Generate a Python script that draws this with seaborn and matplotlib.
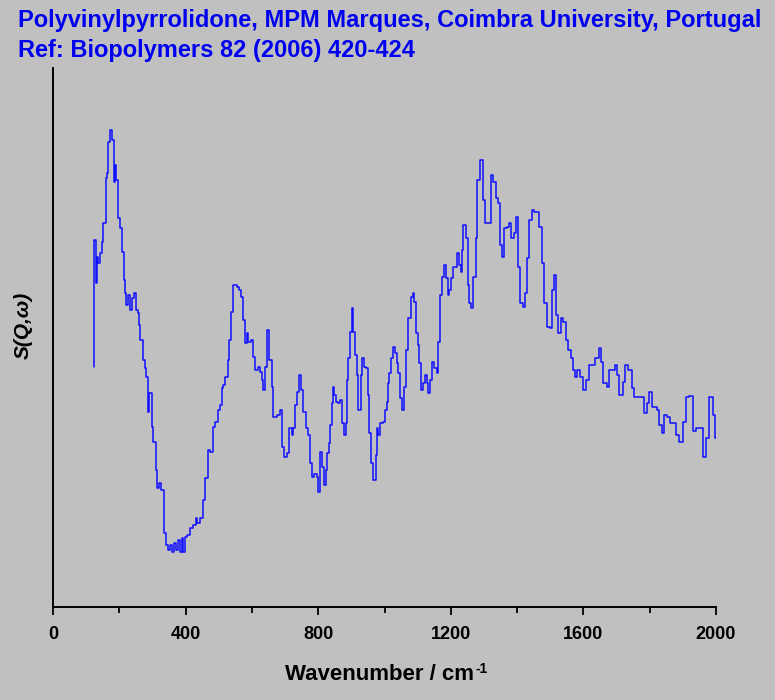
import matplotlib
matplotlib.use("Agg")
import matplotlib.pyplot as plt
from matplotlib.ticker import MultipleLocator
import seaborn as sns
import pandas as pd

# S(Q,w) of PVP (arbitrary intensity units)
wavenumber = [124, 125, 130, 133, 137, 142, 148, 151, 160, 163, 166, 172, 178, 184, 187, 190,
              196, 202, 208, 214, 217, 220, 226, 232, 238, 244, 250, 256, 259, 262, 271, 278,
              281, 287, 290, 299, 302, 311, 314, 320, 326, 335, 341, 347, 353, 359, 365, 371,
              377, 383, 389, 392, 398, 404, 413, 422, 431, 434, 443, 452, 459, 468, 474, 483,
              489, 498, 504, 510, 513, 519, 528, 531, 537, 543, 555, 561, 567, 573, 579, 585,
              588, 597, 603, 609, 618, 624, 630, 633, 640, 646, 652, 661, 664, 676, 685, 691,
              697, 706, 712, 721, 724, 730, 736, 742, 748, 754, 763, 769, 775, 781, 787, 796,
              799, 805, 811, 818, 824, 827, 833, 836, 842, 845, 848, 854, 860, 866, 872, 878,
              884, 887, 890, 896, 902, 905, 911, 917, 920, 929, 932, 938, 944, 950, 953, 959,
              965, 974, 977, 980, 986, 995, 1002, 1008, 1011, 1014, 1020, 1026, 1032, 1038, 1041, 1047,
              1053, 1059, 1065, 1071, 1080, 1086, 1089, 1095, 1101, 1104, 1110, 1116, 1122, 1128, 1131, 1137,
              1143, 1149, 1158, 1161, 1167, 1173, 1180, 1186, 1192, 1195, 1201, 1207, 1219, 1225, 1231, 1234,
              1237, 1246, 1252, 1255, 1261, 1267, 1276, 1279, 1288, 1297, 1303, 1321, 1327, 1336, 1342, 1348,
              1354, 1360, 1370, 1376, 1382, 1391, 1397, 1403, 1409, 1418, 1424, 1430, 1436, 1445, 1451, 1466,
              1475, 1481, 1490, 1499, 1505, 1511, 1517, 1523, 1532, 1538, 1548, 1554, 1563, 1569, 1575, 1581,
              1590, 1599, 1608, 1617, 1635, 1647, 1653, 1659, 1671, 1677, 1695, 1701, 1707, 1719, 1726, 1735,
              1747, 1753, 1783, 1792, 1798, 1807, 1822, 1828, 1837, 1843, 1852, 1861, 1879, 1888, 1900, 1910,
              1919, 1931, 1940, 1961, 1970, 1979, 1991, 1997, 2000]
intensity = [240, 367, 324, 350, 344, 354, 365, 384, 429, 434, 465, 477, 467, 425, 442, 427,
             389, 379, 355, 327, 314, 302, 312, 297, 309, 314, 297, 294, 282, 267, 247, 239,
             230, 195, 214, 180, 165, 137, 119, 124, 117, 74, 62, 57, 62, 55, 64, 57,
             67, 55, 69, 55, 70, 72, 79, 82, 89, 84, 89, 107, 129, 157, 155, 180,
             185, 197, 202, 219, 222, 230, 247, 267, 295, 322, 320, 317, 310, 287, 264, 274,
             265, 267, 250, 237, 240, 235, 227, 217, 240, 277, 247, 220, 190, 192, 197, 160,
             150, 154, 179, 172, 179, 202, 215, 232, 217, 195, 179, 172, 144, 130, 133, 130,
             115, 155, 140, 122, 137, 154, 164, 182, 204, 220, 212, 205, 204, 207, 184, 172,
             184, 227, 249, 275, 299, 275, 252, 232, 197, 232, 249, 240, 239, 212, 174, 144,
             127, 152, 179, 172, 184, 185, 197, 205, 224, 234, 249, 260, 254, 244, 234, 209,
             197, 220, 257, 289, 310, 314, 305, 274, 262, 244, 217, 224, 232, 224, 214, 227,
             245, 239, 234, 265, 312, 330, 342, 329, 312, 317, 329, 340, 354, 342, 335, 357,
             382, 369, 322, 304, 299, 330, 369, 427, 447, 407, 384, 432, 425, 409, 404, 362,
             350, 379, 380, 384, 369, 374, 390, 340, 304, 300, 314, 349, 387, 397, 395, 380,
             344, 304, 280, 279, 317, 332, 292, 274, 289, 285, 267, 257, 249, 237, 230, 237,
             230, 217, 227, 242, 249, 259, 245, 224, 220, 237, 242, 232, 212, 225, 242, 237,
             219, 210, 194, 204, 215, 200, 197, 182, 174, 192, 190, 184, 172, 165, 185, 210,
             211, 176, 179, 150, 169, 210, 192, 169, 169]
xticks = [0, 400, 800, 1200, 1600, 2000]
title_lines = ["Polyvinylpyrrolidone, MPM Marques, Coimbra University, Portugal",
               "Ref: Biopolymers 82 (2006) 420-424"]

df = pd.DataFrame({"wn": wavenumber, "S": intensity})

sns.set_style("ticks")
plt.rcParams['font.family'] = ['Liberation Sans', 'DejaVu Sans']
bg = '#c0c0c0'

fig = plt.figure(figsize=(7.75, 7.0), dpi=100, facecolor=bg)
ax = fig.add_axes([53 / 775, 93 / 700, 663 / 775, 539 / 700])
ax.set_facecolor(bg)

sns.lineplot(data=df, x="wn", y="S", ax=ax, color='#0f0fff', lw=1.1,
             drawstyle='steps-post', estimator=None, sort=False)

ax.set_xlim(0, 2000)
ax.set_ylim(0, 539)
ax.set_xticks(xticks)
ax.xaxis.set_minor_locator(MultipleLocator(200))
ax.set_yticks([])
ax.tick_params(axis='x', which='major', direction='out', length=6, width=1.3,
               labelsize=13, pad=7.5, color='black', labelcolor='black')
ax.tick_params(axis='x', which='minor', direction='out', length=4, width=1.3, color='black')
for lab in ax.get_xticklabels():
    lab.set_fontweight('bold')
for side in ['top', 'right']:
    ax.spines[side].set_visible(False)
for side in ['left', 'bottom']:
    ax.spines[side].set_linewidth(1.4)
    ax.spines[side].set_color('black')

ax.set_xlabel("Wavenumber / cm", fontsize=16, fontweight='bold', labelpad=15, color='black')
ax.set_ylabel("S(Q,ω)", fontsize=15, fontweight='bold', style='italic', color='black')
ax.yaxis.set_label_coords(-0.03, 0.523)

# small "-1" superscript glued to the end of the x label
ax.xaxis.label.set_x(0.5 - 5 / 663)
fig.canvas.draw()
bb = ax.xaxis.label.get_window_extent()
fig.text((bb.x1 + 1) / 775, (bb.y1 - 9) / 700, "-1", fontsize=10, fontweight='bold',
         color='black', ha='left', va='baseline')

fig.text(18 / 775, 1 - 20 / 700, title_lines[0], color='#0000ee', fontsize=17,
         fontweight='bold', va='center', ha='left')
fig.text(18 / 775, 1 - 50 / 700, title_lines[1], color='#0000ee', fontsize=17,
         fontweight='bold', va='center', ha='left')

fig.savefig("out.png", dpi=100, facecolor=bg)
